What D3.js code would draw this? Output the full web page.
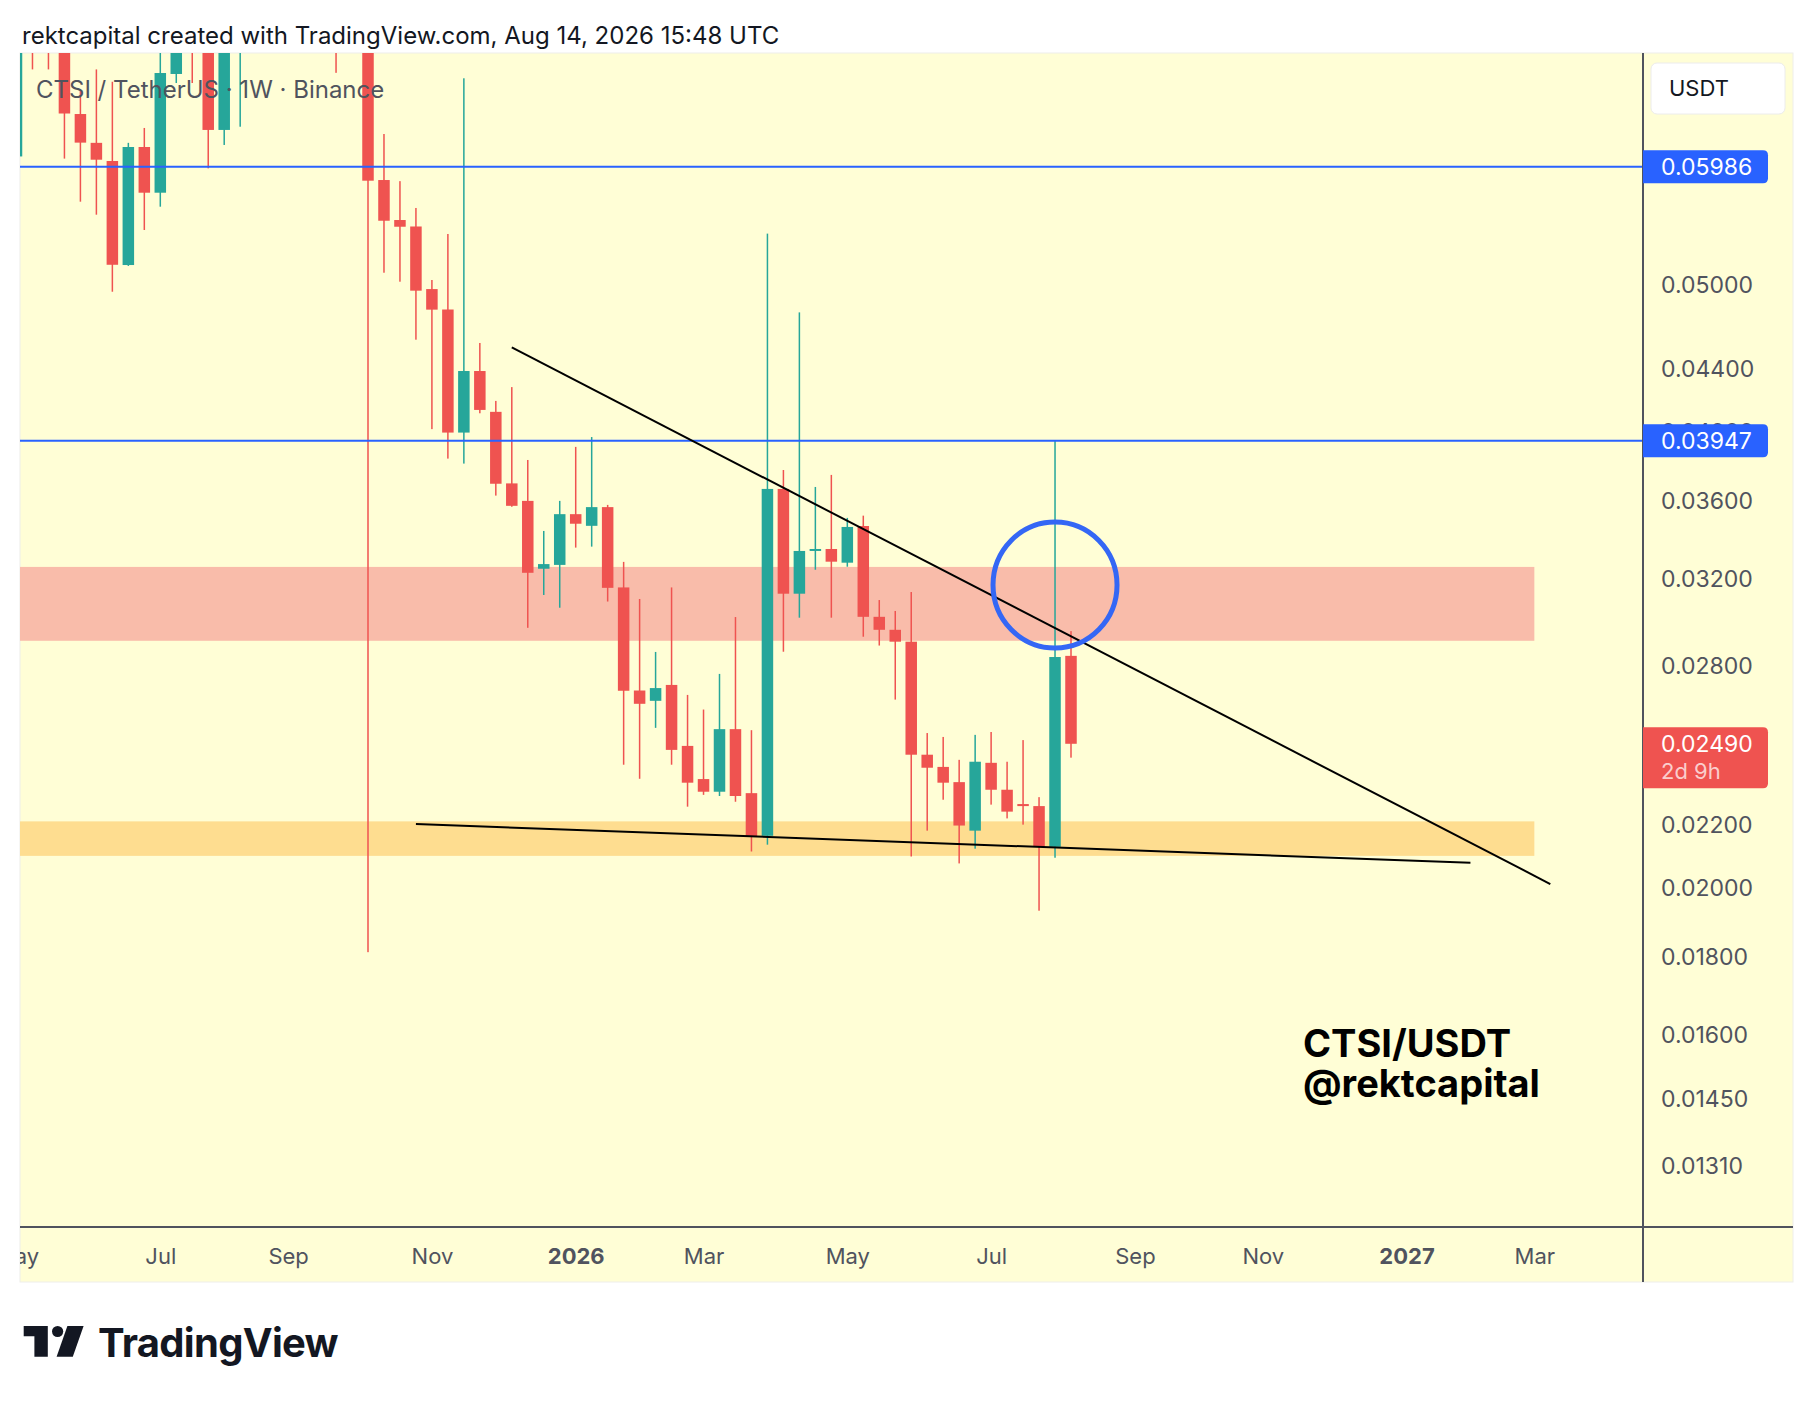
<!DOCTYPE html>
<html>
<head>
<meta charset="utf-8">
<title>CTSI / TetherUS 1W</title>
<script src="https://cdn.jsdelivr.net/npm/d3@7"></script>
<style>
  body { margin: 0; background: #ffffff; }
  svg { display: block; }
  text { font-family: Inter, "Noto Sans", sans-serif; }
</style>
</head>
<body>
<div id="chart"></div>
<script>
// weekly candles, monday open of each week
var weeks = ["2025-05-05","2025-05-12","2025-05-19","2025-05-26","2025-06-02","2025-06-09","2025-06-16","2025-06-23",
  "2025-06-30","2025-07-07","2025-07-14","2025-07-21","2025-07-28","2025-08-04","2025-08-11","2025-08-18",
  "2025-08-25","2025-09-01","2025-09-08","2025-09-15","2025-09-22","2025-09-29","2025-10-06","2025-10-13",
  "2025-10-20","2025-10-27","2025-11-03","2025-11-10","2025-11-17","2025-11-24","2025-12-01","2025-12-08",
  "2025-12-15","2025-12-22","2025-12-29","2026-01-05","2026-01-12","2026-01-19","2026-01-26","2026-02-02",
  "2026-02-09","2026-02-16","2026-02-23","2026-03-02","2026-03-09","2026-03-16","2026-03-23","2026-03-30",
  "2026-04-06","2026-04-13","2026-04-20","2026-04-27","2026-05-04","2026-05-11","2026-05-18","2026-05-25",
  "2026-06-01","2026-06-08","2026-06-15","2026-06-22","2026-06-29","2026-07-06","2026-07-13","2026-07-20",
  "2026-07-27","2026-08-03","2026-08-10"];
var opens = [0.0608,0.0780,0.0760,0.0730,0.06485,0.06207,0.06038,0.05155,
  0.06168,0.05754,0.06892,0.0800,0.0750,0.0633,0.0740,0.0790,
  0.0760,0.0740,0.0780,0.0850,0.0800,0.0750,0.0770,0.05866,
  0.0552,0.05466,0.0497,0.04818,0.03996,0.04388,0.04124,0.03699,
  0.03602,0.03249,0.03268,0.0353,0.03468,0.03568,0.03158,0.0270,
  0.02658,0.02723,0.02482,0.0236,0.02315,0.02546,0.0231,0.02165,
  0.03668,0.03128,0.03338,0.03348,0.03279,0.03467,0.0302,0.02961,
  0.02908,0.02449,0.02404,0.02349,0.02182,0.02419,0.02322,0.02272,
  0.02265,0.02129,0.02846];
var highs = [0.0800,0.0800,0.0790,0.0760,0.06719,0.0694,0.06811,0.06207,
  0.06349,0.0720,0.0800,0.0830,0.0780,0.0790,0.0830,0.0840,
  0.0800,0.0820,0.0880,0.0900,0.0820,0.0800,0.0790,0.06291,
  0.05856,0.05622,0.05039,0.05404,0.06847,0.04579,0.04193,0.04282,
  0.03833,0.03441,0.03602,0.0391,0.03969,0.0358,0.03283,0.03103,
  0.02863,0.03158,0.02682,0.02623,0.02769,0.03019,0.02542,0.05407,
  0.03775,0.04797,0.03679,0.03747,0.0351,0.03522,0.03098,0.03047,
  0.03136,0.02531,0.02516,0.0243,0.02524,0.02535,0.02423,0.02504,
  0.02296,0.03945,0.02955];
var lows = [0.0608,0.0694,0.0694,0.0606,0.05676,0.05565,0.0495,0.05148,
  0.05437,0.05633,0.06798,0.06798,0.05971,0.06187,0.06361,0.0730,
  0.0725,0.0728,0.0760,0.0780,0.06904,0.0728,0.01814,0.05095,
  0.05026,0.04602,0.04017,0.03841,0.03812,0.04115,0.03631,0.0357,
  0.0297,0.03122,0.03062,0.03355,0.0336,0.03091,0.02412,0.02361,
  0.02551,0.02412,0.02263,0.02304,0.0230,0.0228,0.02114,0.02136,
  0.02864,0.03016,0.03244,0.03016,0.03259,0.0293,0.02891,0.02663,
  0.02098,0.02182,0.02287,0.02076,0.02123,0.0227,0.02223,0.02202,
  0.01932,0.02094,0.02438];
var closes = [0.0750,0.0740,0.0730,0.0649,0.06209,0.0605,0.05157,0.06168,
  0.05754,0.06902,0.0760,0.0750,0.0633,0.0740,0.0790,0.0760,
  0.0740,0.0780,0.0850,0.0800,0.0750,0.0770,0.0586,0.05514,
  0.05464,0.04958,0.04817,0.03996,0.04388,0.04136,0.03697,0.03575,
  0.03229,0.03272,0.0353,0.03479,0.03568,0.03156,0.02699,0.02646,
  0.0271,0.02467,0.02347,0.02315,0.02546,0.0230,0.02163,0.03668,
  0.03128,0.03338,0.03348,0.03284,0.03462,0.0302,0.02961,0.02908,
  0.02449,0.02401,0.02347,0.02199,0.02423,0.02322,0.02246,0.02265,
  0.02129,0.02841,0.0249];

// axis ticks
var priceTicks = [0.05, 0.044, 0.04, 0.036, 0.032, 0.028, 0.022, 0.02, 0.018, 0.016, 0.0145, 0.0131];
var timeTicks = ["2025-05-05","2025-07-07","2025-09-01","2025-11-03","2026-01-05","2026-03-02",
  "2026-05-04","2026-07-06","2026-09-07","2026-11-02","2027-01-04","2027-03-01"];
var timeLabels = ["May","Jul","Sep","Nov","2026","Mar","May","Jul","Sep","Nov","2027","Mar"];

// drawings on the chart
var levels = [0.05986, 0.03947];
var resistZone = [0.02912, 0.03258];
var supportZone = [0.0210, 0.02213];
var zoneDates = ["2025-01-06", "2027-03-01"];
var trendDates = ["2025-12-08", "2027-03-08"];
var trendPrices = [0.04548, 0.02012];
var baseDates = ["2025-10-27", "2027-02-01"];
var basePrices = [0.02204, 0.02078];
var circleDate = "2026-08-03";
var circlePrice = 0.0317;
var lastPrice = 0.0249;
var countdown = "2d 9h";

var parseDate = d3.utcParse("%Y-%m-%d");

// page layout (TradingView snapshot)
var W = 1814, H = 1402;
var pane = { left: 20, top: 53, right: 1643, bottom: 1227, outerRight: 1793, outerBottom: 1282 };

var GREEN = "#26a69a", RED = "#ef5350", BLUE = "#2962ff", AXIS = "#50535e";

var svg = d3.select("#chart")
  .append("svg")
  .attr("width", W)
  .attr("height", H);

var x = d3.scaleTime()
  .domain([parseDate("2025-10-06"), parseDate("2026-08-10")])
  .range([368, 1071]);

var y = d3.scaleLog()
  .domain([0.05986, 0.03947])
  .range([166.7, 440.7]);

// header line
svg.append("text")
  .attr("x", 22)
  .attr("y", 36)
  .attr("dy", "0.35em")
  .attr("font-size", 24)
  .attr("fill", "#131722")
  .text("rektcapital created with TradingView.com, Aug 14, 2026 15:48 UTC");

// chart background
svg.append("rect")
  .attr("x", pane.left)
  .attr("y", pane.top)
  .attr("width", pane.outerRight - pane.left)
  .attr("height", pane.outerBottom - pane.top)
  .attr("fill", "#fffed6")
  .attr("stroke", "#eeeeea")
  .attr("stroke-width", 1);

var defs = svg.append("defs");
defs.append("clipPath").attr("id", "paneClip")
  .append("rect")
  .attr("x", pane.left).attr("y", pane.top)
  .attr("width", pane.right - pane.left).attr("height", pane.bottom - pane.top);
defs.append("clipPath").attr("id", "timeClip")
  .append("rect")
  .attr("x", pane.left).attr("y", pane.bottom)
  .attr("width", pane.outerRight - pane.left).attr("height", pane.outerBottom - pane.bottom);

var plot = svg.append("g").attr("clip-path", "url(#paneClip)");

// zones
var zx0 = x(parseDate(zoneDates[0])), zx1 = x(parseDate(zoneDates[1]));
plot.append("rect")
  .attr("x", zx0).attr("width", zx1 - zx0)
  .attr("y", y(resistZone[1])).attr("height", y(resistZone[0]) - y(resistZone[1]))
  .attr("fill", "#f9bcaa");
plot.append("rect")
  .attr("x", zx0).attr("width", zx1 - zx0)
  .attr("y", y(supportZone[1])).attr("height", y(supportZone[0]) - y(supportZone[1]))
  .attr("fill", "#fedd90");

// candles
var candles = weeks.map(function (d, i) {
  return { date: parseDate(d), o: opens[i], h: highs[i], l: lows[i], c: closes[i] };
});
var bodyW = 11.5;

var cg = plot.selectAll("g.candle")
  .data(candles)
  .enter().append("g")
  .attr("class", "candle")
  .attr("fill", function (d) { return d.c >= d.o ? GREEN : RED; });

cg.append("rect")
  .attr("x", function (d) { return x(d.date) - 0.75; })
  .attr("width", 1.5)
  .attr("y", function (d) { return y(d.h); })
  .attr("height", function (d) { return y(d.l) - y(d.h); });

cg.append("rect")
  .attr("x", function (d) { return x(d.date) - bodyW / 2; })
  .attr("width", bodyW)
  .attr("y", function (d) { return y(Math.max(d.o, d.c)); })
  .attr("height", function (d) { return Math.max(1.5, Math.abs(y(d.o) - y(d.c))); });

// horizontal levels
plot.selectAll("line.level")
  .data(levels)
  .enter().append("line")
  .attr("class", "level")
  .attr("x1", pane.left).attr("x2", pane.right)
  .attr("y1", function (d) { return y(d); })
  .attr("y2", function (d) { return y(d); })
  .attr("stroke", BLUE)
  .attr("stroke-width", 2);

// trend lines
var line = d3.line()
  .x(function (d) { return x(parseDate(d[0])); })
  .y(function (d) { return y(d[1]); });

plot.append("path")
  .attr("d", line(d3.zip(trendDates, trendPrices)))
  .attr("stroke", "#000000").attr("stroke-width", 2).attr("fill", "none");
plot.append("path")
  .attr("d", line(d3.zip(baseDates, basePrices)))
  .attr("stroke", "#000000").attr("stroke-width", 2).attr("fill", "none");

// highlight circle
plot.append("ellipse")
  .attr("cx", x(parseDate(circleDate)))
  .attr("cy", y(circlePrice))
  .attr("rx", 62).attr("ry", 63)
  .attr("fill", "none")
  .attr("stroke", "#3467f5")
  .attr("stroke-width", 5);

// legend + watermark text
plot.append("text")
  .attr("x", 36).attr("y", 90).attr("dy", "0.35em")
  .attr("font-size", 24)
  .attr("fill", "#50535e")
  .text("CTSI / TetherUS \u00b7 1W \u00b7 Binance");

plot.append("text")
  .attr("x", 1303).attr("y", 1057)
  .attr("font-size", 38).attr("font-weight", 700)
  .attr("fill", "#000000")
  .text("CTSI/USDT");
plot.append("text")
  .attr("x", 1303).attr("y", 1097)
  .attr("font-size", 38).attr("font-weight", 700)
  .attr("fill", "#000000")
  .text("@rektcapital");

// price axis
var yAxis = d3.axisRight(y)
  .tickValues(priceTicks)
  .tickFormat(d3.format(".5f"))
  .tickSize(0)
  .tickPadding(18);

var ya = svg.append("g")
  .attr("transform", "translate(" + pane.right + ",0)")
  .call(yAxis);
ya.select(".domain").remove();
ya.selectAll("text")
  .attr("font-family", null)
  .attr("font-size", 23)
  .attr("fill", AXIS);

// time axis
var xAxis = d3.axisBottom(x)
  .tickValues(timeTicks.map(parseDate))
  .tickFormat(function (d, i) { return timeLabels[i]; })
  .tickSize(0);

var xa = svg.append("g")
  .attr("clip-path", "url(#timeClip)")
  .append("g")
  .attr("transform", "translate(0," + pane.bottom + ")")
  .call(xAxis);
xa.select(".domain").remove();
xa.selectAll("text")
  .attr("font-family", null)
  .attr("y", 29)
  .attr("dy", "0.35em")
  .attr("font-size", 22)
  .attr("fill", AXIS)
  .attr("font-weight", function (d, i) { return /^\d+$/.test(timeLabels[i]) ? 700 : 400; });

// pane separators
svg.append("line")
  .attr("x1", pane.right).attr("x2", pane.right)
  .attr("y1", pane.top).attr("y2", pane.outerBottom)
  .attr("stroke", AXIS).attr("stroke-width", 2);
svg.append("line")
  .attr("x1", pane.left).attr("x2", pane.outerRight)
  .attr("y1", pane.bottom).attr("y2", pane.bottom)
  .attr("stroke", AXIS).attr("stroke-width", 2);

// label with right-side rounded corners, stuck to the price scale
function priceTag(yc, h, fill) {
  var x0 = pane.right, w = 125, r = 5, y0 = yc - h / 2;
  svg.append("path")
    .attr("d", "M" + x0 + "," + y0 + "H" + (x0 + w - r) + "Q" + (x0 + w) + "," + y0 + " " + (x0 + w) + "," + (y0 + r) +
      "V" + (y0 + h - r) + "Q" + (x0 + w) + "," + (y0 + h) + " " + (x0 + w - r) + "," + (y0 + h) + "H" + x0 + "Z")
    .attr("fill", fill);
}

levels.forEach(function (v) {
  priceTag(y(v), 33, BLUE);
  svg.append("text")
    .attr("x", 1661).attr("y", y(v)).attr("dy", "0.35em")
    .attr("font-size", 23).attr("fill", "#ffffff")
    .text(d3.format(".5f")(v));
});

// last price + bar countdown
var ly = y(lastPrice);
priceTag(ly + 14, 61, RED);
svg.append("text")
  .attr("x", 1661).attr("y", ly).attr("dy", "0.35em")
  .attr("font-size", 23).attr("fill", "#ffffff")
  .text(d3.format(".5f")(lastPrice));
svg.append("text")
  .attr("x", 1661).attr("y", ly + 28).attr("dy", "0.35em")
  .attr("font-size", 22).attr("fill", "#ffffff").attr("fill-opacity", 0.72)
  .text(countdown);

// currency box
svg.append("rect")
  .attr("x", 1651).attr("y", 63)
  .attr("width", 134).attr("height", 51)
  .attr("rx", 6)
  .attr("fill", "#ffffff")
  .attr("stroke", "#ececec");
svg.append("text")
  .attr("x", 1669).attr("y", 88).attr("dy", "0.35em")
  .attr("font-size", 22).attr("fill", "#131722")
  .text("USDT");

// TradingView logo
var logo = svg.append("g").attr("fill", "#131722");
logo.append("path").attr("d", "M23.7,1326H47.8V1356.7H34.4V1336.3H23.7Z");
logo.append("circle").attr("cx", 57.6).attr("cy", 1331.5).attr("r", 5.6);
logo.append("path").attr("d", "M67.4,1326H83.6L72.8,1356.7H56.6Z");
logo.append("text")
  .attr("x", 98).attr("y", 1356.7)
  .attr("font-size", 40).attr("font-weight", 700)
  .attr("letter-spacing", -0.7)
  .text("TradingView");
</script>
</body>
</html>
